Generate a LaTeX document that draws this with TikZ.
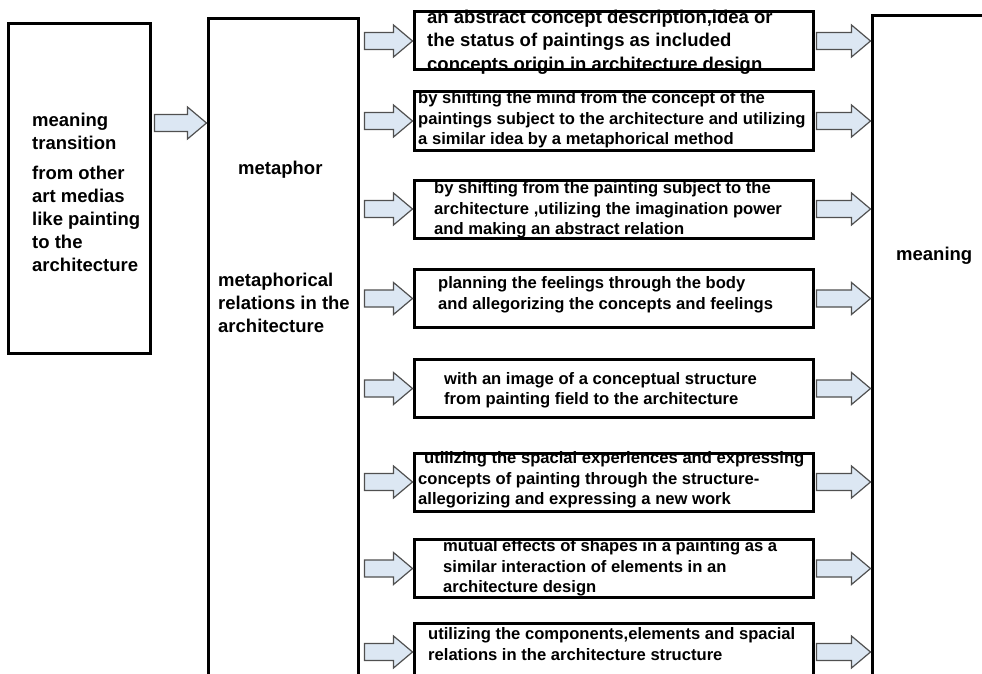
\documentclass[tikz,border=0pt]{standalone}
\usepackage{fontspec}
\setmainfont{Liberation Sans}
\usetikzlibrary{calc}

\definecolor{arrowfill}{RGB}{220,231,243}
\definecolor{arrowline}{RGB}{80,80,80}

\tikzset{
  panel/.style={draw, line width=3pt, minimum width=399pt, minimum height=58pt, inner sep=0pt},
  tallpanel/.style={draw, line width=3pt, inner sep=0pt},
  bigtext/.style={font=\fontsize{18.5}{23}\selectfont\bfseries, align=left, inner sep=0pt, anchor=west},
  boxtext/.style={font=\fontsize{16.6}{20.5}\selectfont\bfseries, align=left, inner sep=0pt, anchor=west},
  blockarrow/.style={draw=arrowline, fill=arrowfill, line width=1.2pt, line join=miter}
}

% fat arrow from #1 to the tip #2, at the height of #2
\newcommand{\blockarrow}[2]{%
  \draw[blockarrow] let \p1=#1, \p2=#2 in
    (\x1,\y2+8.5pt) -- (\x2-19pt,\y2+8.5pt) -- (\x2-19pt,\y2+16pt) -- (\x2,\y2)
    -- (\x2-19pt,\y2-16pt) -- (\x2-19pt,\y2-8.5pt) -- (\x1,\y2-8.5pt) -- cycle;}

\begin{document}
\begin{tikzpicture}[x=1pt,y=-1pt]
        \useasboundingbox (0,0) rectangle (982,674);
        \clip (0,0) rectangle (982,674);

        \node[tallpanel, minimum width=142pt, minimum height=329pt] (src) at (79,188.5) {};
        \node[tallpanel, minimum width=150pt, minimum height=701pt] (meta) at (283,369.5) {};
        \node[tallpanel, minimum width=128pt, minimum height=704pt] (mean) at (936,368) {};

        \node[bigtext] (srctext) at (32,192.5)
          {meaning\\transition\\[7pt]from other\\art medias\\like painting\\to the\\architecture};
        \node[bigtext] (metatext) at (238,170) {metaphor};
        \node[bigtext] (reltext) at (218,303) {metaphorical\\relations in the\\architecture};
        \node[bigtext] (meantext) at (896,256) {meaning};

        \foreach \i/\y in {1/41,2/121,3/209,4/298.5,5/388.5,6/482,7/568.5,8/652}
          \node[panel] (b\i) at (613.5,\y) {};

        \node[boxtext, font=\fontsize{18.5}{23.5}\selectfont\bfseries] (t1) at (427,42)
          {an abstract concept description,idea or\\the status of paintings as included\\concepts origin in architecture design};
        \node[boxtext] (t2) at (418,120)
          {by shifting the mind from the concept of the\\paintings subject to the architecture and utilizing\\a similar idea by a metaphorical method};
        \node[boxtext] (t3) at (434,210)
          {by shifting from the painting subject to the\\architecture ,utilizing the imagination power\\and making an abstract relation};
        \node[boxtext] (t4) at (438,294.5)
          {planning the feelings through the body\\and allegorizing the concepts and feelings};
        \node[boxtext] (t5) at (444,390)
          {with an image of a conceptual structure\\from painting field to the architecture};
        \node[boxtext] (t6) at (418,480)
          {\hspace*{6pt}utilizing the spacial experiences and expressing\\concepts of painting through the structure-\\allegorizing and expressing a new work};
        \node[boxtext] (t7) at (443,568)
          {mutual effects of shapes in a painting as a\\similar interaction of elements in an\\architecture design};
        \node[boxtext] (t8) at (428,644)
          {utilizing the components,elements and spacial\\relations in the architecture structure};

        \coordinate (a0) at (0,123);
        \blockarrow{([xshift=3pt]src.east |- a0)}{(meta.west |- a0)}
        \foreach \i in {1,...,8} {
          \blockarrow{([xshift=5pt]meta.east |- b\i)}{(b\i.west)}
          \blockarrow{([xshift=2pt]b\i.east)}{(mean.west |- b\i)}
        }
\end{tikzpicture}
\end{document}
